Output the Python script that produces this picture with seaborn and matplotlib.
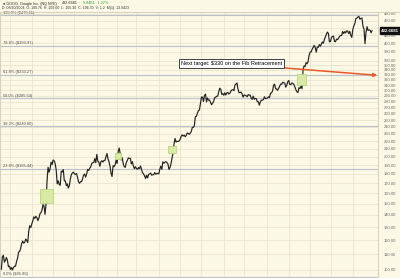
import matplotlib
matplotlib.use("Agg")
import matplotlib.pyplot as plt
import matplotlib.transforms as mtransforms
from matplotlib.patches import Rectangle
import numpy as np
import pandas as pd
import seaborn as sns

# ---------------- data ----------------
closes_2004 = [
    # Aug 2004
    100.34, 108.31, 109.40, 104.87, 106.00, 107.91, 106.15, 102.01, 102.37,
    # Sep
    100.25, 101.51, 100.01, 101.58, 102.30, 102.31, 105.33, 107.50, 111.49, 112.00, 113.97,
    117.49, 119.36, 117.84, 118.38, 120.82, 119.83, 118.26, 126.86, 131.08, 129.60,
    # Oct
    132.58, 135.06, 138.37, 137.08, 138.85, 137.73, 135.26, 137.40, 140.90, 142.00, 144.11,
    149.16, 147.94, 140.49, 149.38, 172.43, 187.40, 181.80, 185.97, 193.30, 190.64,
    # Nov
    196.03, 194.87, 191.67, 184.70, 169.35, 172.55, 168.70, 167.86, 183.02, 182.00, 184.87,
    172.50, 172.54, 167.54, 169.40, 165.10, 167.52, 174.76, 179.39, 181.05, 181.98,
    # Dec
    179.96, 179.40, 180.40, 176.29, 171.43, 169.98, 171.65, 171.65, 174.56, 178.69, 179.78,
    176.47, 180.08, 185.02, 183.75, 186.30, 187.90, 191.91, 192.76, 192.90, 197.60, 192.79,
]
closes_2005a = [
    # Jan 2005
    202.71, 194.50, 193.51, 188.55, 193.85, 195.06, 193.54, 195.38, 195.33, 199.97,
    203.90, 197.30, 193.92, 188.28, 180.72, 177.12, 189.24, 188.08, 190.34, 195.62,
    # Feb
    191.90, 205.96, 210.86, 204.36, 196.03, 198.64, 191.58, 187.98, 187.40, 192.99,
    195.23, 198.41, 197.90, 197.95, 191.37, 193.95, 188.89, 185.87, 187.99,
    # Mar
    186.06, 185.18, 187.01, 185.90, 188.81, 185.20, 181.35, 179.98, 177.80, 174.99, 178.61,
    175.60, 179.29, 180.04, 180.88, 178.60, 178.98, 179.25, 181.42, 179.57, 180.45, 180.51,
    # Apr
    180.04, 185.29, 188.57, 185.14, 193.76, 192.05, 193.23, 193.96, 192.93, 191.45, 185.00,
    186.97, 191.40, 198.10, 204.22, 215.81, 223.53, 218.75, 219.78, 219.45, 220.00,
    # May
    222.29, 226.19, 228.50, 226.98, 228.02, 226.02, 227.80, 231.29, 230.39, 229.24, 231.05,
    233.13, 239.16, 239.18, 241.61, 255.45, 256.00, 260.81, 265.08, 266.00, 277.27,
    # Jun
    288.00, 287.90, 280.26, 290.94, 293.12, 279.56, 286.31, 282.50, 282.75, 278.35, 274.80,
    277.44, 280.30, 286.70, 287.84, 289.30, 289.71, 297.25, 304.10, 302.00, 292.72, 294.15,
]
closes_2005b = [
    # Jul 2005
    291.25, 295.71, 291.52, 295.54, 296.23, 293.35, 294.84, 298.86, 300.89, 301.19,
    299.54, 309.90, 312.00, 313.94, 302.40, 295.85, 296.09, 296.93, 293.50, 287.76,
    # Aug
    291.61, 291.27, 290.25, 288.45, 292.35, 291.25, 291.57, 285.68, 284.05, 289.72, 284.00,
    285.65, 285.10, 279.99, 280.00, 274.01, 279.58, 282.57, 282.59, 283.58, 288.45, 284.95, 286.00,
    # Sep
    286.25, 288.45, 287.11, 294.87, 295.39, 299.09, 309.74, 311.68, 303.00, 302.62, 300.20,
    303.79, 307.91, 311.90, 311.37, 315.36, 314.28, 313.94, 306.00, 309.62, 316.46,
    # Oct
    318.68, 311.00, 310.71, 314.14, 312.99, 310.65, 306.10, 300.97, 297.44, 296.14, 305.00,
    303.28, 308.70, 303.20, 339.90, 348.65, 346.91, 355.44, 353.06, 358.17, 372.14,
    # Nov
    379.38, 379.68, 385.95, 390.43, 395.03, 389.90, 379.15, 391.10, 390.40, 396.97, 392.80,
    398.15, 403.45, 400.21, 409.36, 416.47, 422.86, 428.62, 424.60, 403.54, 404.91,
    # Dec
    414.09, 417.70, 417.94, 404.54, 404.22, 410.65, 409.20, 412.61, 417.49, 420.00, 419.80,
    430.15, 424.60, 429.74, 426.33, 432.04, 430.93, 424.64, 430.59, 420.10, 414.86,
]
closes_2006 = [
    # Jan 2006
    435.23, 445.24, 451.24, 465.66, 466.90, 469.76, 471.63, 463.63, 466.25, 467.11,
    444.91, 436.45, 399.46, 427.50, 443.03, 433.00, 434.27, 433.49, 426.82, 432.66,
]
closes = closes_2004 + closes_2005a + closes_2005b + closes_2006

month_start_days = [9, 30, 51, 72, 94, 114, 133, 155, 176, 197, 219, 239, 262, 283, 304, 325, 346]

fib_low = 95.96
fib_high = 475.11
fib_pcts = [100.0, 78.6, 61.8, 50.0, 38.2, 23.6, 0.0]

grid_levels = list(range(100, 370, 10)) + [380, 400, 420, 440, 460, 480]
# 440.00 sits under the last-price tag, so it is not labelled
label_levels = [v for v in grid_levels if v != 440]

gap_day_start = [38, 112, 164, 291]
gap_day_end = [51, 118, 172, 300]
gap_price_lo = [151, 197, 205, 310]
gap_price_hi = [164, 205, 214, 332]

last_price = "432.6681"
change_text = "5.8481   1.37%"
symbol_text = "● GOOG, Google Inc. (NQ NYE)"
info_text = "D: 08/20/2004  O: 109.76  H: 108.00  L: 105.30  C: 106.30  V: 1.2  M(1): 13.9423"
note_text = "Next target: $330 on the Fib Retracement"
note_xy = (227, 353)
note_target = (370, 329)

# ---------------- style ----------------
sns.set_theme(style="white")
plt.rcParams["font.family"] = ["Liberation Sans", "DejaVu Sans"]

BG = "#fbf8e6"
GRID = "#e9e4cc"
FIB = "#bcc0cc"

W, H = 400, 278
fig = plt.figure(figsize=(4.0, 2.78), dpi=100, facecolor=BG)
ax = fig.add_axes([0 / W, 0 / H, 378 / W, (H - 12) / H], facecolor=BG)

df = pd.DataFrame({"day": np.arange(len(closes)), "close": closes})

ax.set_yscale("log")
ax.set_ylim(95.2, 484.6)
ax.set_xlim(-1.3, 370.8)

# grid
for v in grid_levels:
    ax.axhline(v, color=GRID, lw=0.6, zorder=0)
for d in month_start_days:
    ax.axvline(d, color=GRID, lw=0.6, zorder=0)

# fib levels
for p in fib_pcts:
    lvl = fib_low + p / 100.0 * (fib_high - fib_low)
    ax.axhline(lvl, color=FIB, lw=0.8, zorder=1)
    ax.text(1.5, lvl * 1.004, f"{p:.1f}% (${lvl:.2f})", fontsize=2.9,
            color="#505050", ha="left", va="bottom", zorder=2)

sns.lineplot(data=df, x="day", y="close", ax=ax, color="#222222", lw=0.85, zorder=3)

# gap boxes
for d0, d1, lo, hi in zip(gap_day_start, gap_day_end, gap_price_lo, gap_price_hi):
    ax.add_patch(Rectangle((d0, lo), d1 - d0, hi - lo, facecolor="#d9eaa6",
                           edgecolor="#bcd480", lw=0.6, zorder=4))

# annotation
ax.annotate(note_text, xy=note_target, xytext=note_xy, fontsize=4.0, color="black",
            ha="center", va="center", zorder=6,
            bbox=dict(boxstyle="square,pad=0.35", fc="white", ec="#222222", lw=0.6),
            arrowprops=dict(arrowstyle="-|>", color="#e9582a", lw=1.1,
                            mutation_scale=5, shrinkA=0, shrinkB=0))

# right axis labels
ax.yaxis.tick_right()
ax.set_yticks(label_levels)
ax.set_yticklabels([f"{v:.2f}" for v in label_levels])
ax.yaxis.set_minor_locator(matplotlib.ticker.NullLocator())
ax.tick_params(axis="y", length=0, pad=4, labelsize=3.0, labelcolor="#6a6a6a")
ax.set_xticks([])
ax.set_xlabel("")
ax.set_ylabel("")
for s in ["top", "bottom"]:
    ax.spines[s].set_visible(False)
ax.spines["left"].set_color("#cfcab4")
ax.spines["left"].set_linewidth(0.6)
ax.spines["right"].set_color("#cfcab4")
ax.spines["right"].set_linewidth(0.6)

# last price tag
trans = mtransforms.blended_transform_factory(ax.transAxes, ax.transData)
ax.text(1.008, float(last_price), last_price, transform=trans, fontsize=3.2,
        color="white", fontweight="bold", ha="left", va="center", zorder=7,
        bbox=dict(boxstyle="square,pad=0.3", fc="#111111", ec="#111111"), clip_on=False)

# header
fig.add_artist(plt.Line2D([0, 1], [1 - 12 / H, 1 - 12 / H], color="#cfcab4", lw=0.6))
renderer = fig.canvas.get_renderer()
x_px = 3.0
for txt, col in [(symbol_text, "#222222"), (last_price, "#222222"), (change_text, "#2e9a2e")]:
    t = fig.text(x_px / W, 1 - 3.5 / H, txt, fontsize=2.7, color=col, ha="left", va="center")
    bb = t.get_window_extent(renderer=renderer)
    x_px = bb.x1 + 5
fig.text(2 / W, 1 - 8.5 / H, info_text, fontsize=2.5, color="#333333", ha="left", va="center")

fig.savefig("out.png", dpi=100, facecolor=BG)
